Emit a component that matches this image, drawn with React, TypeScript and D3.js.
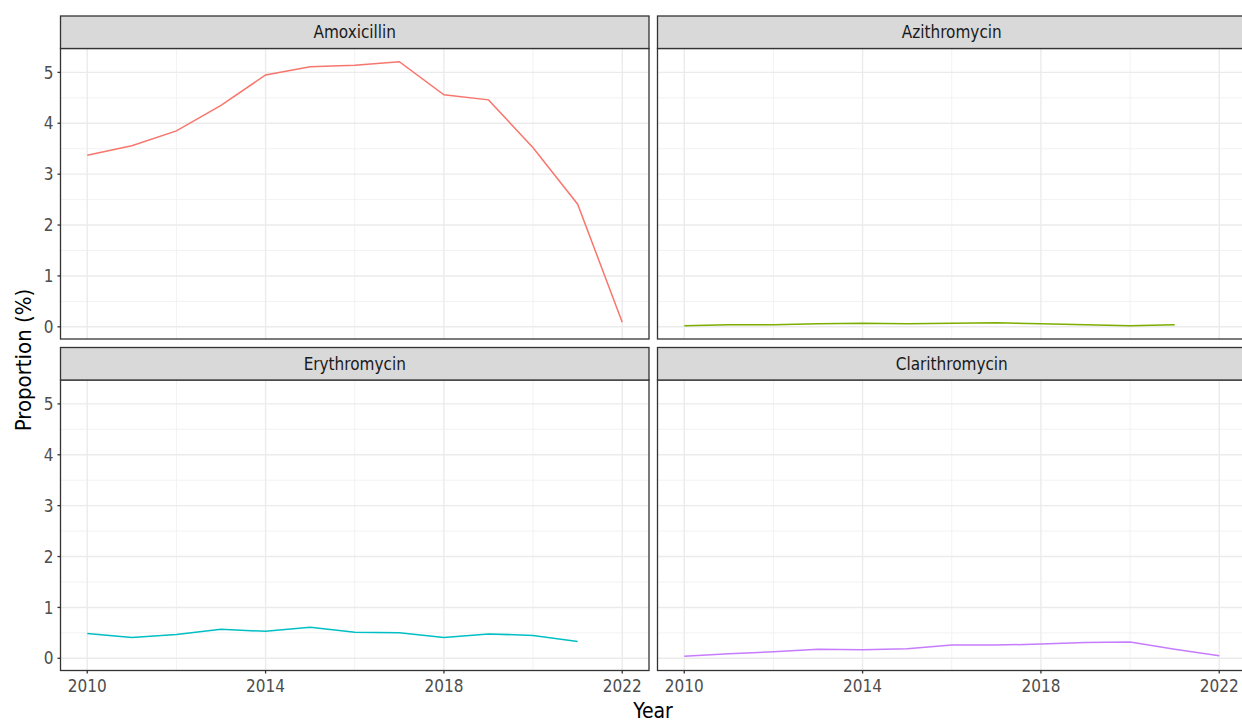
import { useEffect, useRef } from 'react';
import * as d3 from 'd3';

const years = [2010, 2011, 2012, 2013, 2014, 2015, 2016, 2017, 2018, 2019, 2020, 2021, 2022];
const amoxicillin = [3.37, 3.56, 3.85, 4.35, 4.95, 5.11, 5.14, 5.21, 4.56, 4.46, 3.52, 2.41, 0.09];
const azithromycin = [0.02, 0.04, 0.04, 0.06, 0.07, 0.06, 0.07, 0.08, 0.06, 0.04, 0.02, 0.04];
const erythromycin = [0.49, 0.41, 0.47, 0.57, 0.53, 0.61, 0.51, 0.5, 0.41, 0.48, 0.45, 0.33];
const clarithromycin = [0.04, 0.09, 0.13, 0.18, 0.17, 0.19, 0.26, 0.26, 0.28, 0.31, 0.32, 0.18, 0.05];
const drugNames = ['Amoxicillin', 'Azithromycin', 'Erythromycin', 'Clarithromycin'];
const drugColors = ['#F8766D', '#7CAE00', '#00BFC4', '#C77CFF'];
const xTicks = [2010, 2014, 2018, 2022];
const xMinor = [2012, 2016, 2020];
const yTicks = [0, 1, 2, 3, 4, 5];

const WIDTH = 1242;
const HEIGHT = 722;
const FONT = "'Liberation Sans Narrow', 'DejaVu Sans Condensed', 'Roboto', sans-serif";

export default function App() {
  const svgRef = useRef<SVGSVGElement | null>(null);

  useEffect(() => {
    if (!svgRef.current) return;
    const svg = d3.select(svgRef.current);
    svg.selectAll('*').remove();

    const series = [amoxicillin, azithromycin, erythromycin, clarithromycin];
    const allValues = series.flat();
    const [yMin, yMax] = d3.extent(allValues) as [number, number];
    const yPad = (yMax - yMin) * 0.05;
    const xPad = (2022 - 2010) * 0.05;

    const colX = [60.5, 657.5];
    const rowTop = [16, 347.5];
    const panelW = 588.5;
    const stripH = 32.5;
    const panelH = 290.5;

    svg.append('rect').attr('width', WIDTH).attr('height', HEIGHT).attr('fill', '#ffffff');

    series.forEach((values, i) => {
      const col = i % 2;
      const row = Math.floor(i / 2);
      const left = colX[col];
      const stripTop = rowTop[row];
      const top = stripTop + stripH;

      const x = d3.scaleLinear().domain([2010 - xPad, 2022 + xPad]).range([left, left + panelW]);
      const y = d3.scaleLinear().domain([yMin - yPad, yMax + yPad]).range([top + panelH, top]);

      const g = svg.append('g');

      // minor grid
      const yMinorTicks = d3.range(0.5, 5.5, 1);
      g.selectAll('line.ymin')
        .data(yMinorTicks)
        .enter()
        .append('line')
        .attr('x1', left)
        .attr('x2', left + panelW)
        .attr('y1', (d) => y(d))
        .attr('y2', (d) => y(d))
        .attr('stroke', '#F2F2F2')
        .attr('stroke-width', 1);
      g.selectAll('line.xmin')
        .data(xMinor)
        .enter()
        .append('line')
        .attr('x1', (d) => x(d))
        .attr('x2', (d) => x(d))
        .attr('y1', top)
        .attr('y2', top + panelH)
        .attr('stroke', '#F2F2F2')
        .attr('stroke-width', 1);

      // major grid
      g.selectAll('line.ymaj')
        .data(yTicks)
        .enter()
        .append('line')
        .attr('x1', left)
        .attr('x2', left + panelW)
        .attr('y1', (d) => y(d))
        .attr('y2', (d) => y(d))
        .attr('stroke', '#EBEBEB')
        .attr('stroke-width', 1.4);
      g.selectAll('line.xmaj')
        .data(xTicks)
        .enter()
        .append('line')
        .attr('x1', (d) => x(d))
        .attr('x2', (d) => x(d))
        .attr('y1', top)
        .attr('y2', top + panelH)
        .attr('stroke', '#EBEBEB')
        .attr('stroke-width', 1.4);

      // series line
      const line = d3
        .line<number>()
        .x((_, k) => x(years[k]))
        .y((d) => y(d));
      g.append('path')
        .datum(values)
        .attr('d', line)
        .attr('fill', 'none')
        .attr('stroke', drugColors[i])
        .attr('stroke-width', 1.5);

      // panel border
      g.append('rect')
        .attr('x', left)
        .attr('y', top)
        .attr('width', panelW)
        .attr('height', panelH)
        .attr('fill', 'none')
        .attr('stroke', '#333333')
        .attr('stroke-width', 1.3);

      // strip
      g.append('rect')
        .attr('x', left)
        .attr('y', stripTop)
        .attr('width', panelW)
        .attr('height', stripH)
        .attr('fill', '#D9D9D9')
        .attr('stroke', '#333333')
        .attr('stroke-width', 1.3);
      g.append('text')
        .attr('x', left + panelW / 2)
        .attr('y', stripTop + stripH / 2)
        .attr('dy', '0.35em')
        .attr('text-anchor', 'middle')
        .attr('font-family', FONT)
        .attr('font-size', 17)
        .attr('fill', '#1A1A1A')
        .text(drugNames[i]);

      // y axis on left column
      if (col === 0) {
        g.selectAll('line.ytick')
          .data(yTicks)
          .enter()
          .append('line')
          .attr('x1', left - 3)
          .attr('x2', left)
          .attr('y1', (d) => y(d))
          .attr('y2', (d) => y(d))
          .attr('stroke', '#333333')
          .attr('stroke-width', 1.3);
        g.selectAll('text.ytick')
          .data(yTicks)
          .enter()
          .append('text')
          .attr('x', left - 7)
          .attr('y', (d) => y(d))
          .attr('dy', '0.36em')
          .attr('text-anchor', 'end')
          .attr('font-family', FONT)
          .attr('font-size', 17)
          .attr('fill', '#4D4D4D')
          .text((d) => d);
      }

      // x axis on bottom row
      if (row === 1) {
        g.selectAll('line.xtick')
          .data(xTicks)
          .enter()
          .append('line')
          .attr('x1', (d) => x(d))
          .attr('x2', (d) => x(d))
          .attr('y1', top + panelH)
          .attr('y2', top + panelH + 3)
          .attr('stroke', '#333333')
          .attr('stroke-width', 1.3);
        g.selectAll('text.xtick')
          .data(xTicks)
          .enter()
          .append('text')
          .attr('x', (d) => x(d))
          .attr('y', top + panelH + 15)
          .attr('dy', '0.36em')
          .attr('text-anchor', 'middle')
          .attr('font-family', FONT)
          .attr('font-size', 17)
          .attr('fill', '#4D4D4D')
          .text((d) => d);
      }
    });

    svg
      .append('text')
      .attr('x', 653)
      .attr('y', 710)
      .attr('dy', '0.36em')
      .attr('text-anchor', 'middle')
      .attr('font-family', FONT)
      .attr('font-size', 21)
      .attr('fill', '#000000')
      .text('Year');

    svg
      .append('text')
      .attr('transform', `translate(23, 360) rotate(-90)`)
      .attr('dy', '0.36em')
      .attr('text-anchor', 'middle')
      .attr('font-family', FONT)
      .attr('font-size', 22)
      .attr('fill', '#000000')
      .text('Proportion (%)');
  }, []);

  return (
    <svg
      ref={svgRef}
      width={WIDTH}
      height={HEIGHT}
      viewBox={`0 0 ${WIDTH} ${HEIGHT}`}
      style={{ position: 'absolute', left: 0, top: 0, display: 'block' }}
    />
  );
}
